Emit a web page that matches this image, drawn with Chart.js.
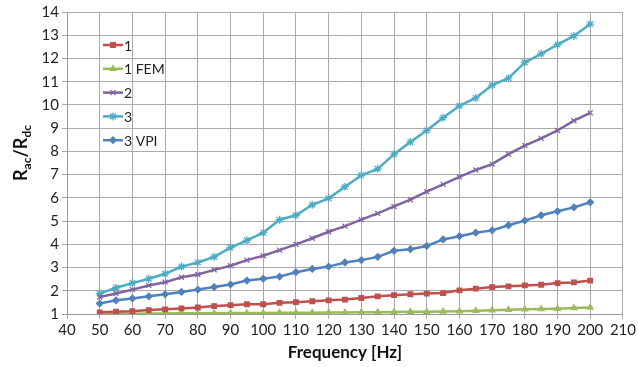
<!DOCTYPE html>
<html>
<head>
<meta charset="utf-8">
<script src="https://cdn.jsdelivr.net/npm/chart.js@4/dist/chart.umd.min.js"></script>
<style>
  html, body { margin: 0; padding: 0; background: #fff; }
  #wrap { width: 638px; height: 367px; position: relative; }
</style>
</head>
<body>
<div id="wrap"><canvas id="freqChart"></canvas></div>
<script>
// frequency steps (Hz)
const freqs = [50, 55, 60, 65, 70, 75, 80, 85, 90, 95, 100, 105, 110, 115, 120, 125, 130,
               135, 140, 145, 150, 155, 160, 165, 170, 175, 180, 185, 190, 195, 200]

const series1 = [1.07, 1.10, 1.12, 1.17, 1.20, 1.24, 1.28, 1.34, 1.38, 1.42, 1.42, 1.48, 1.51, 1.55, 1.59, 1.62, 1.69,
                 1.76, 1.81, 1.85, 1.88, 1.90, 2.02, 2.09, 2.16, 2.19, 2.23, 2.26, 2.33, 2.36, 2.44]
const series1Fem = [1.00, 1.01, 1.01, 1.02, 1.02, 1.03, 1.03, 1.03, 1.04, 1.04, 1.04, 1.05, 1.05, 1.05, 1.06, 1.06, 1.07,
                    1.08, 1.09, 1.10, 1.10, 1.11, 1.12, 1.14, 1.16, 1.18, 1.20, 1.21, 1.23, 1.26, 1.28]
const series2 = [1.73, 1.88, 2.05, 2.23, 2.37, 2.58, 2.70, 2.90, 3.08, 3.32, 3.51, 3.75, 4.00, 4.26, 4.54, 4.78, 5.06,
                 5.33, 5.63, 5.92, 6.27, 6.58, 6.90, 7.20, 7.45, 7.88, 8.25, 8.56, 8.90, 9.32, 9.66]
const series3 = [1.88, 2.13, 2.33, 2.52, 2.73, 3.04, 3.22, 3.46, 3.86, 4.17, 4.50, 5.06, 5.25, 5.70, 5.98, 6.48, 6.97,
                 7.25, 7.88, 8.40, 8.90, 9.45, 9.96, 10.30, 10.85, 11.15, 11.83, 12.20, 12.60, 12.97, 13.48]
const series3Vpi = [1.45, 1.59, 1.67, 1.76, 1.85, 1.95, 2.05, 2.16, 2.27, 2.44, 2.52, 2.61, 2.80, 2.94, 3.04, 3.22, 3.32,
                    3.46, 3.72, 3.79, 3.93, 4.21, 4.35, 4.50, 4.60, 4.82, 5.02, 5.25, 5.42, 5.59, 5.81]

const seriesNames = ['1', '1 FEM', '2', '3', '3 VPI']
const xRange = [40, 210]
const yRange = [1, 14]

const font = "Lato, 'Open Sans', sans-serif"
const gridColor = '#aaaaaa'

function makeSet(label, values, color, style, radius) {
    return {
        label: label,
        data: freqs.map((f, i) => ({ x: f, y: values[i] })),
        borderColor: color,
        backgroundColor: color,
        borderWidth: 2.5,
        pointStyle: style,
        pointRadius: radius,
        pointBorderWidth: 1.3,
        tension: 0
    }
}

// legend drawn inside the plot, top left, stacked
const insideLegend = {
    id: 'insideLegend',
    afterDatasetsDraw(chart) {
        const ctx = chart.ctx
        ctx.save()
        chart.data.datasets.forEach((ds, i) => {
            const y = 45 + i * 23.8
            ctx.strokeStyle = ds.borderColor
            ctx.fillStyle = ds.backgroundColor
            ctx.lineWidth = 2.5
            ctx.beginPath()
            ctx.moveTo(103, y)
            ctx.lineTo(123, y)
            ctx.stroke()
            ctx.lineWidth = 1.3
            Chart.helpers.drawPoint(ctx, {
                pointStyle: ds.pointStyle,
                radius: ds.pointRadius,
                borderWidth: 1.3,
                rotation: 0
            }, 113, y)
            ctx.fillStyle = '#222'
            ctx.font = '14px ' + font
            ctx.textBaseline = 'middle'
            ctx.fillText(ds.label, 124, y + 1)
        })
        ctx.restore()
    }
}

// y title with subscripts
const yTitle = {
    id: 'yTitle',
    afterDraw(chart) {
        const ctx = chart.ctx
        ctx.save()
        ctx.translate(27, 153)
        ctx.rotate(-Math.PI / 2)
        ctx.fillStyle = '#111'
        ctx.textBaseline = 'alphabetic'
        const parts = [['R', 18, 0], ['ac', 12, 4], ['/R', 18, 0], ['dc', 12, 4]]
        let w = 0
        parts.forEach(p => { ctx.font = 'bold ' + p[1] + 'px ' + font; w += ctx.measureText(p[0]).width })
        let x = -w / 2
        parts.forEach(p => {
            ctx.font = 'bold ' + p[1] + 'px ' + font
            ctx.fillText(p[0], x, p[2])
            x += ctx.measureText(p[0]).width
        })
        ctx.restore()
    }
}

const ctx = document.getElementById('freqChart').getContext('2d')
new Chart(ctx, {
    type: 'line',
    data: {
        datasets: [
            makeSet(seriesNames[0], series1, '#C0504D', 'rect', 3.2),
            makeSet(seriesNames[1], series1Fem, '#9BBB59', 'triangle', 3.2),
            makeSet(seriesNames[2], series2, '#8064A2', 'crossRot', 3.5),
            makeSet(seriesNames[3], series3, '#4BACC6', 'star', 4),
            makeSet(seriesNames[4], series3Vpi, '#4F81BD', 'rectRot', 3.2)
        ]
    },
    options: {
        responsive: true,
        maintainAspectRatio: false,
        animation: false,
        layout: { padding: { left: 0, right: 11, top: 7, bottom: 0 } },
        scales: {
            x: {
                type: 'linear',
                min: xRange[0],
                max: xRange[1],
                afterFit: s => { s.height = 53 },
                ticks: { stepSize: 10, color: '#222', font: { family: font, size: 15 }, padding: 2, maxRotation: 0 },
                grid: { color: gridColor, tickLength: 5, lineWidth: 1 },
                border: { color: '#999' },
                title: {
                    display: true,
                    text: 'Frequency [Hz]',
                    color: '#111',
                    font: { family: font, size: 17, weight: 'bold' },
                    padding: { top: 0, bottom: 4 }
                }
            },
            y: {
                min: yRange[0],
                max: yRange[1],
                afterFit: s => { s.width = 67 },
                ticks: { stepSize: 1, color: '#222', font: { family: font, size: 15 }, padding: 3 },
                grid: { color: gridColor, tickLength: 5, lineWidth: 1 },
                border: { color: '#999' }
            }
        },
        plugins: {
            legend: { display: false },
            tooltip: { enabled: false }
        }
    },
    plugins: [insideLegend, yTitle]
})
</script>
</body>
</html>
